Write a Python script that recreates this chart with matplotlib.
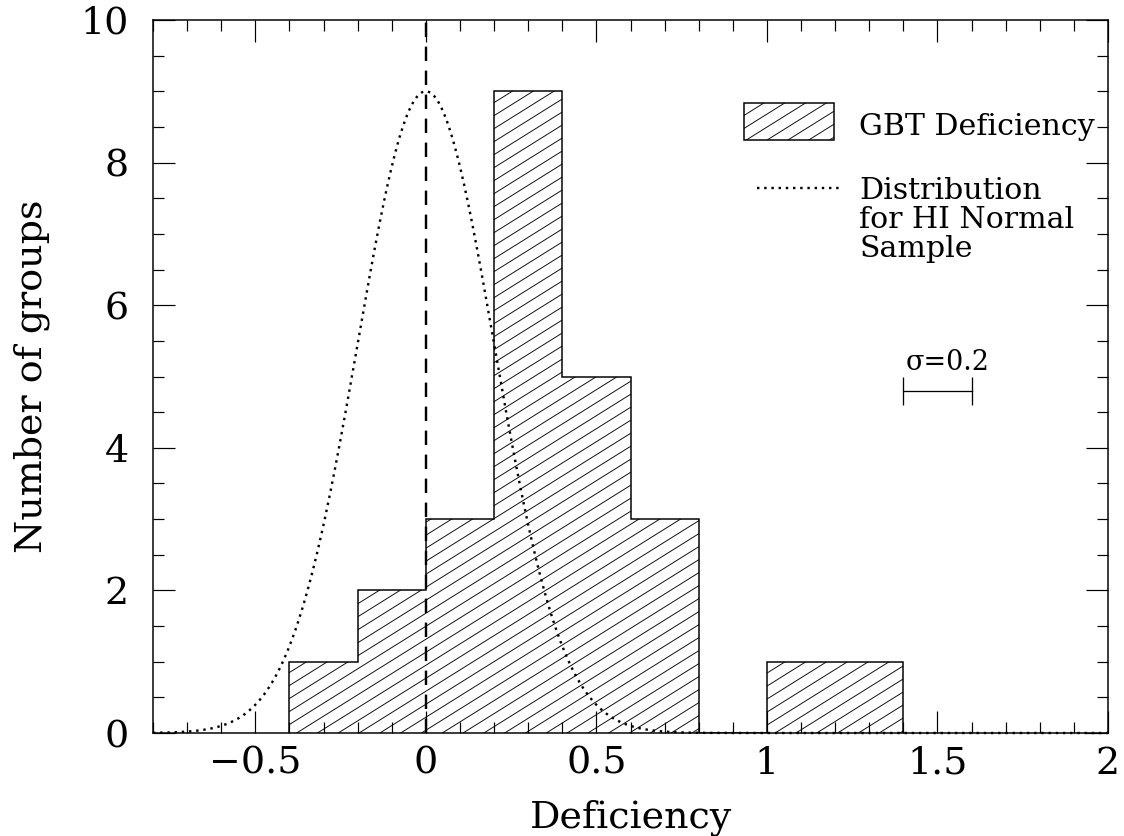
'''Histogram of group HI deficiency with the normal-sample distribution overlaid'''

import numpy as np
import matplotlib
matplotlib.use("Agg")
import matplotlib.pyplot as plt
from matplotlib.patches import Rectangle
from matplotlib.collections import LineCollection
from matplotlib.ticker import MultipleLocator

# histogram bins and counts
bin_edges = [-0.4, -0.2, 0.0, 0.2, 0.4, 0.6, 0.8, 1.0, 1.2, 1.4]
counts = [1, 2, 3, 9, 5, 3, 0, 1, 1]

# gaussian for the HI normal sample
normal_center = 0.0
normal_sigma = 0.2
normal_peak = 9.0

xlim = (-0.8, 2.0)
ylim = (0, 10)

plt.rcParams["font.family"] = ["DejaVu Serif"]


def add_hatch(ax, patch, angle=32, step=13):
    """Slanted hatch lines (pixel spacing) clipped to a patch"""
    fig = ax.figure
    pos = ax.get_position()
    w = pos.width * fig.get_figwidth() * fig.dpi
    h = pos.height * fig.get_figheight() * fig.dpi
    slope = np.tan(np.radians(angle))
    segs = []
    for c in np.arange(-slope * w - step, h + step, step):
        segs.append([(0, c / h), (1, (c + slope * w) / h)])
    lc = LineCollection(segs, transform=ax.transAxes, colors="black", linewidths=0.9)
    ax.add_collection(lc, autolim=False)
    lc.set_clip_path(patch)


def plot_deficiency():
    fig = plt.figure(figsize=(1124 / 72, 836 / 72), dpi=72)
    ax = fig.add_axes([153 / 1124, 103 / 836, 955 / 1124, 713 / 836])

    # histogram outline
    outline = ax.stairs(counts, bin_edges, baseline=0, fill=True,
                        facecolor="none", edgecolor="black", linewidth=1.5, zorder=2)
    add_hatch(ax, outline)

    # normal distribution
    dotted = (0, (1, 2))
    xs = np.linspace(xlim[0], xlim[1], 1200)
    ys = normal_peak * np.exp(-0.5 * ((xs - normal_center) / normal_sigma) ** 2)
    ax.plot(xs, ys, color="black", linewidth=2.4, linestyle=dotted,
            dash_capstyle="butt", zorder=3, clip_on=False)

    # zero line
    ax.plot([0, 0], [0, 10], color="black", linewidth=2.4, linestyle=(0, (6, 4)), zorder=3)

    # legend, drawn by hand
    box = Rectangle((0.933, 8.32), 0.263, 0.52, facecolor="none",
                    edgecolor="black", linewidth=1.5)
    ax.add_patch(box)
    add_hatch(ax, box)
    ax.text(1.27, 8.39, "GBT Deficiency", fontsize=30, va="baseline")
    ax.plot([0.971, 1.211], [7.64, 7.64], color="black", linewidth=2.4,
            linestyle=dotted, dash_capstyle="butt")
    for yy, line in zip([7.49, 7.08, 6.67], ["Distribution", "for HI Normal", "Sample"]):
        ax.text(1.27, yy, line, fontsize=30, va="baseline")

    # sigma scale bar
    bar_y = 4.8
    ax.plot([1.4, 1.4 + normal_sigma], [bar_y, bar_y], color="black", linewidth=1.3)
    ax.vlines([1.4, 1.4 + normal_sigma], bar_y - 0.2, bar_y + 0.2, color="black", linewidth=1.3)
    ax.text(1.53, 5.09, "σ=0.2", fontsize=27, ha="center", va="baseline")

    ax.set_xlim(*xlim)
    ax.set_ylim(*ylim)
    ax.xaxis.set_major_locator(MultipleLocator(0.5))
    ax.xaxis.set_minor_locator(MultipleLocator(0.1))
    ax.yaxis.set_major_locator(MultipleLocator(2))
    ax.yaxis.set_minor_locator(MultipleLocator(0.5))
    ax.xaxis.set_major_formatter(lambda v, p: "0" if abs(v) < 1e-9 else "{:g}".format(v).replace("-", "\u2212"))
    ax.tick_params(which="both", direction="in", top=True, right=True, width=1.2, labelsize=38)
    ax.tick_params(which="major", length=22)
    ax.tick_params(which="minor", length=11)
    ax.tick_params(axis="x", pad=13)
    ax.tick_params(axis="y", pad=24)
    for s in ax.spines.values():
        s.set_linewidth(1.5)

    ax.set_xlabel("Deficiency", fontsize=38)
    ax.xaxis.label.set_va("baseline")
    ax.xaxis.set_label_coords(0.5, (733 - 827) / 713)
    ax.set_ylabel("Number of groups", fontsize=38)
    ax.yaxis.label.set_va("baseline")
    ax.yaxis.set_label_coords((42 - 153) / 955, 0.5)

    fig.savefig("out.png", dpi=72)


if __name__ == "__main__":
    plot_deficiency()
